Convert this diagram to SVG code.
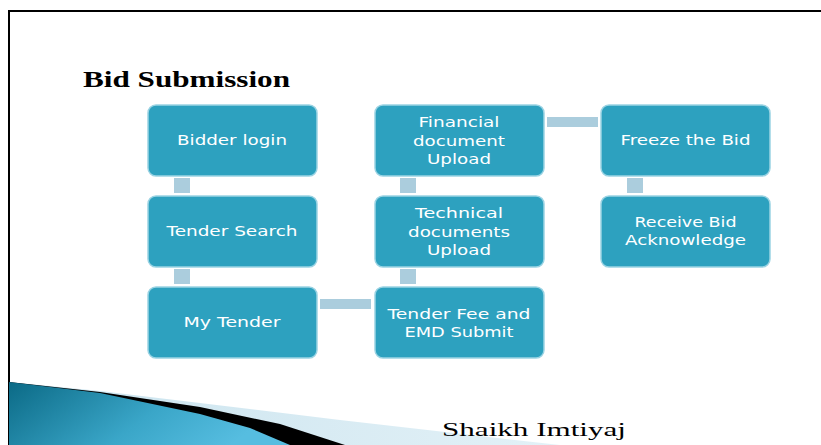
<svg xmlns="http://www.w3.org/2000/svg" width="821" height="445" viewBox="0 0 821 445">
<defs>
<linearGradient id="teal" x1="0" y1="0" x2="1" y2="0.3">
<stop offset="0" stop-color="#0b6a86"/>
<stop offset="0.6" stop-color="#3aa6c8"/>
<stop offset="1" stop-color="#56bde0"/>
</linearGradient>
<linearGradient id="pale" x1="0" y1="0" x2="1" y2="0">
<stop offset="0" stop-color="#c9e3ee"/>
<stop offset="1" stop-color="#e3f1f7"/>
</linearGradient>
</defs>
<style>
.box{fill:#2da1bf;stroke:#9ad3e3;stroke-width:1.5}
.lbl{font-family:"DejaVu Sans",Verdana,sans-serif;font-size:14.5px;fill:#ffffff;text-anchor:middle}
.con{fill:#abcddd}
</style>
<rect width="821" height="445" fill="#ffffff"/>
<path d="M9,445 V11 H821" fill="none" stroke="#000" stroke-width="2"/>
<polygon points="9,382 100,391 200,403 340,420 480,436 560,445 9,445" fill="url(#pale)"/>
<polygon points="9,382 100,392 200,407 280,424 345,445 9,445" fill="#000"/>
<polygon points="9,382 100,393 200,414 250,428 290,445 9,445" fill="url(#teal)"/>
<text x="83" y="87" font-family="Liberation Serif,serif" font-weight="bold" font-size="24" textLength="207" lengthAdjust="spacingAndGlyphs">Bid Submission</text>
<text x="442" y="436" font-family="Liberation Serif,serif" font-size="19" textLength="184" lengthAdjust="spacingAndGlyphs">Shaikh Imtiyaj</text>
<g id="connectors">
<rect class="con" x="174" y="178" width="16" height="15"/>
<rect class="con" x="174" y="269" width="16" height="15"/>
<rect class="con" x="320" y="299" width="51" height="10"/>
<rect class="con" x="400" y="269" width="16" height="15"/>
<rect class="con" x="400" y="178" width="16" height="15"/>
<rect class="con" x="547" y="117" width="51" height="10"/>
<rect class="con" x="627" y="178" width="16" height="15"/>
</g>
<g id="bidder-login">
<rect class="box" x="148" y="105" width="169" height="71" rx="8"/>
<text class="lbl" x="232" y="145" textLength="110" lengthAdjust="spacingAndGlyphs">Bidder login</text>
</g>
<g id="tender-search">
<rect class="box" x="148" y="196" width="169" height="71" rx="8"/>
<text class="lbl" x="232" y="236" textLength="131" lengthAdjust="spacingAndGlyphs">Tender Search</text>
</g>
<g id="my-tender">
<rect class="box" x="148" y="287" width="169" height="71" rx="8"/>
<text class="lbl" x="232" y="327" textLength="97" lengthAdjust="spacingAndGlyphs">My Tender</text>
</g>
<g id="tender-fee">
<rect class="box" x="375" y="287" width="169" height="71" rx="8"/>
<text class="lbl" x="459" y="318.5" textLength="143" lengthAdjust="spacingAndGlyphs">Tender Fee and</text>
<text class="lbl" x="459" y="337" textLength="109" lengthAdjust="spacingAndGlyphs">EMD Submit</text>
</g>
<g id="technical-upload">
<rect class="box" x="375" y="196" width="169" height="71" rx="8"/>
<text class="lbl" x="459" y="217.5" textLength="88" lengthAdjust="spacingAndGlyphs">Technical</text>
<text class="lbl" x="459" y="236.5" textLength="102" lengthAdjust="spacingAndGlyphs">documents</text>
<text class="lbl" x="459" y="255" textLength="64" lengthAdjust="spacingAndGlyphs">Upload</text>
</g>
<g id="financial-upload">
<rect class="box" x="375" y="105" width="169" height="71" rx="8"/>
<text class="lbl" x="459" y="126.5" textLength="81" lengthAdjust="spacingAndGlyphs">Financial</text>
<text class="lbl" x="459" y="145.5" textLength="92" lengthAdjust="spacingAndGlyphs">document</text>
<text class="lbl" x="459" y="164" textLength="64" lengthAdjust="spacingAndGlyphs">Upload</text>
</g>
<g id="freeze-bid">
<rect class="box" x="601" y="105" width="169" height="71" rx="8"/>
<text class="lbl" x="685.5" y="145" textLength="130" lengthAdjust="spacingAndGlyphs">Freeze the Bid</text>
</g>
<g id="receive-ack">
<rect class="box" x="601" y="196" width="169" height="71" rx="8"/>
<text class="lbl" x="685.5" y="227" textLength="102" lengthAdjust="spacingAndGlyphs">Receive Bid</text>
<text class="lbl" x="685.5" y="245" textLength="121" lengthAdjust="spacingAndGlyphs">Acknowledge</text>
</g>
</svg>
